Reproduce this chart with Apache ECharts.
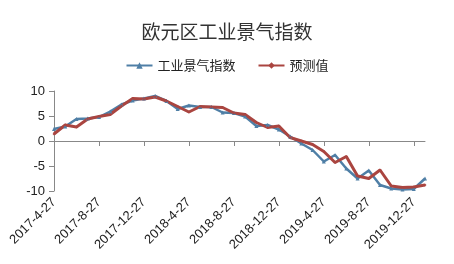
<!DOCTYPE html>
<html><head><meta charset="utf-8">
<script src="https://cdn.jsdelivr.net/npm/echarts@6/dist/echarts.min.js"></script>
<style>html,body{margin:0;padding:0;background:#fff}#c{width:454px;height:264px}</style>
</head><body><div id="c"></div>
<script>
const categories = [
 '2017-4-27','2017-5-27','2017-6-27','2017-7-27','2017-8-27','2017-9-27','2017-10-27','2017-11-27',
 '2017-12-27','2018-1-27','2018-2-27','2018-3-27','2018-4-27','2018-5-27','2018-6-27','2018-7-27',
 '2018-8-27','2018-9-27','2018-10-27','2018-11-27','2018-12-27','2019-1-27','2019-2-27','2019-3-27',
 '2019-4-27','2019-5-27','2019-6-27','2019-7-27','2019-8-27','2019-9-27','2019-10-27','2019-11-27',
 '2019-12-27','2020-1-27'];
const indexValues = [2.4,2.9,4.4,4.5,4.8,5.9,7.3,8.1,8.5,9.0,8.0,6.4,7.1,6.8,6.8,5.7,5.6,4.9,3.0,3.2,2.3,0.9,-0.5,-1.8,-4.1,-2.8,-5.5,-7.5,-5.9,-8.8,-9.5,-9.7,-9.6,-7.5];
const forecastValues = [1.4,3.2,2.8,4.4,4.9,5.3,7.0,8.5,8.4,8.8,8.0,6.9,5.8,6.9,6.8,6.7,5.6,5.3,3.7,2.7,3.0,0.7,0.0,-0.7,-2.1,-4.3,-3.1,-7.0,-7.5,-5.8,-9.0,-9.3,-9.2,-8.8];
const yTicks = {min:-10, max:10, interval:5};

const chart = echarts.init(document.getElementById('c'));
chart.setOption({
  animation:false,
  backgroundColor:'#fff',
  title:{text:'欧元区工业景气指数', left:'center', top:17,
    textStyle:{fontSize:19, fontWeight:'normal', color:'#333', fontFamily:'Noto Sans CJK SC'}},
  legend:{top:54, left:'center', itemGap:22, itemWidth:26, itemHeight:8,
    textStyle:{fontSize:13, color:'#222', fontFamily:'Noto Sans CJK SC'},
    data:['工业景气指数','预测值']},
  grid:{left:54, right:29, top:91, bottom:73},
  xAxis:{type:'category', data:categories, boundaryGap:false,
    axisLine:{lineStyle:{color:'#888'}},
    axisTick:{interval:3, length:5, lineStyle:{color:'#888'}},
    axisLabel:{interval:3, rotate:45, fontSize:13, color:'#222', margin:9, fontFamily:'Liberation Sans'}},
  yAxis:{type:'value', min:yTicks.min, max:yTicks.max, interval:yTicks.interval,
    axisLine:{show:true, lineStyle:{color:'#888'}},
    axisTick:{show:true, length:5, lineStyle:{color:'#888'}},
    splitLine:{show:false},
    axisLabel:{fontSize:13, color:'#222', margin:9, fontFamily:'Liberation Sans'}},
  series:[
    {name:'工业景气指数', type:'line', data:indexValues, symbol:'triangle', symbolSize:4,
     lineStyle:{width:2.5, color:'#4f7fa6'}, itemStyle:{color:'#4f7fa6'}},
    {name:'预测值', type:'line', data:forecastValues, symbol:'diamond', symbolSize:3,
     lineStyle:{width:3, color:'#aa4540'}, itemStyle:{color:'#aa4540'}}
  ]
});
</script></body></html>
